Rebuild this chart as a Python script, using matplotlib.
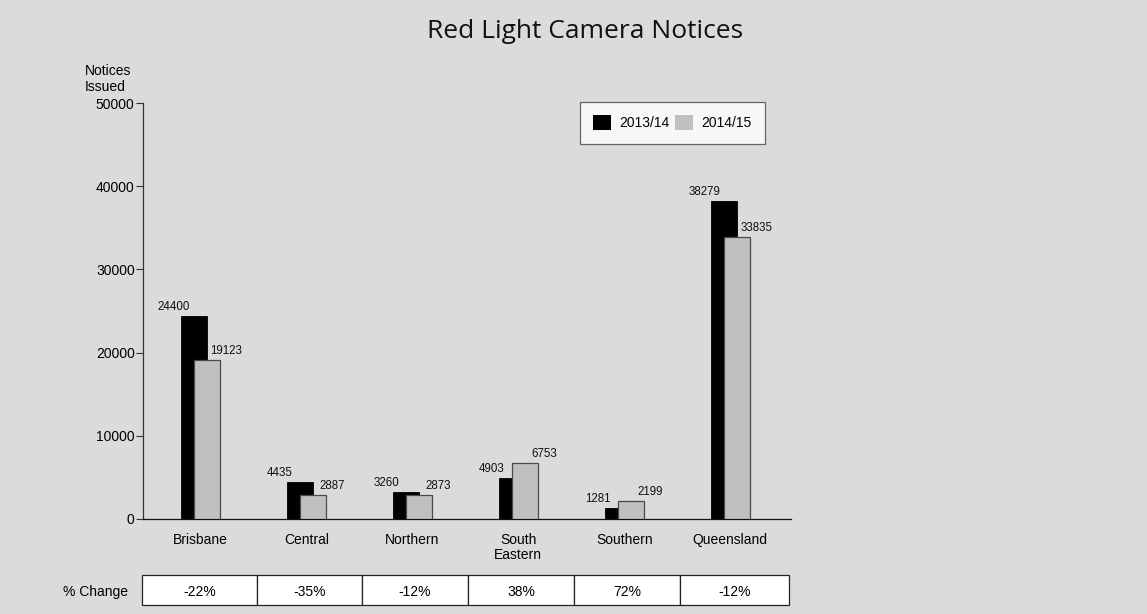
import numpy as np
import matplotlib.pyplot as plt
from matplotlib.patches import Rectangle

regions = ['Brisbane', 'Central', 'Northern', 'South\nEastern', 'Southern', 'Queensland']
notices_1314 = [24400, 4435, 3260, 4903, 1281, 38279]
notices_1415 = [19123, 2887, 2873, 6753, 2199, 33835]
pct_change = ['-22%', '-35%', '-12%', '38%', '72%', '-12%']
years = ['2013/14', '2014/15']

bg = '#dcdbd9'
W, H = 1147, 614

plt.rcParams['font.family'] = ['Liberation Sans', 'DejaVu Sans']

fig = plt.figure(figsize=(W / 100, H / 100), dpi=100, facecolor=bg)

# main axes: x 143..791 px, y 103..519 px
ax = fig.add_axes([143 / W, (H - 519) / H, 648 / W, 416 / H])
ax.set_facecolor(bg)

x = np.arange(len(regions))
bw = 0.245
ax.bar(x, notices_1314, bw, color='black', edgecolor='black', lw=0.6, zorder=2,
       label=years[0])
ax.bar(x + 0.125, notices_1415, bw, color='#c0c0c0', edgecolor='#4a4a4a', lw=0.9,
       zorder=3, label=years[1])

for xi, v in zip(x, notices_1314):
    ax.annotate(str(v), (xi, v), xytext=(-20, 3), textcoords='offset pixels',
                ha='center', va='bottom', fontsize=8.3, color='#111111')
for xi, v in zip(x + 0.125, notices_1415):
    ax.annotate(str(v), (xi, v), xytext=(19, 3), textcoords='offset pixels',
                ha='center', va='bottom', fontsize=8.3, color='#111111')

ax.set_xlim(-0.481, 5.632)
ax.set_ylim(0, 50000)
ax.set_yticks([0, 10000, 20000, 30000, 40000, 50000])
ax.tick_params(axis='y', labelsize=10, length=5, width=0.8, color='#333333',
               pad=1)
ax.set_xticks(x + 0.06)
ax.set_xticklabels(regions, fontsize=10, linespacing=1.1)
ax.tick_params(axis='x', length=0, pad=10)
for s in ['top', 'right']:
    ax.spines[s].set_visible(False)
ax.spines['left'].set_color('#333333')
ax.spines['bottom'].set_color('#111111')
ax.spines['left'].set_linewidth(0.9)
ax.spines['bottom'].set_linewidth(0.9)

fig.text(85 / W, 1 - 79 / H, 'Notices\nIssued', fontsize=10, ha='left',
         va='center', linespacing=1.2)

leg = ax.legend(loc='upper left', bbox_to_anchor=(580 / W, 1 - 102 / H),
                bbox_transform=fig.transFigure, ncol=2, fontsize=10,
                frameon=True, fancybox=False, handlelength=1.3,
                handleheight=1.3, handletextpad=0.55, columnspacing=0.45,
                borderpad=0.95, borderaxespad=0)
leg.get_frame().set_edgecolor('#444444')
leg.get_frame().set_linewidth(0.9)
for h in leg.legend_handles:
    h.set_edgecolor('none')

fig.text(585 / W, 1 - 32 / H, 'Red Light Camera Notices', fontsize=19,
         ha='center', va='center', family=['Open Sans', 'DejaVu Sans'],
         color='#111111')

# % change table
edges = [142, 257, 362, 468, 574, 680, 789]
tax = fig.add_axes([0, 0, 1, 1])
tax.set_xlim(0, W)
tax.set_ylim(H, 0)
tax.axis('off')
for i, txt in enumerate(pct_change):
    tax.add_patch(Rectangle((edges[i], 575), edges[i + 1] - edges[i], 30,
                            facecolor='white', edgecolor='#222222', lw=0.9))
    tax.text((edges[i] + edges[i + 1]) / 2, 592, txt, ha='center', va='center',
             fontsize=10)
tax.text(63, 592, '% Change', ha='left', va='center', fontsize=10)

fig.savefig('out.png', dpi=100, facecolor=bg)
